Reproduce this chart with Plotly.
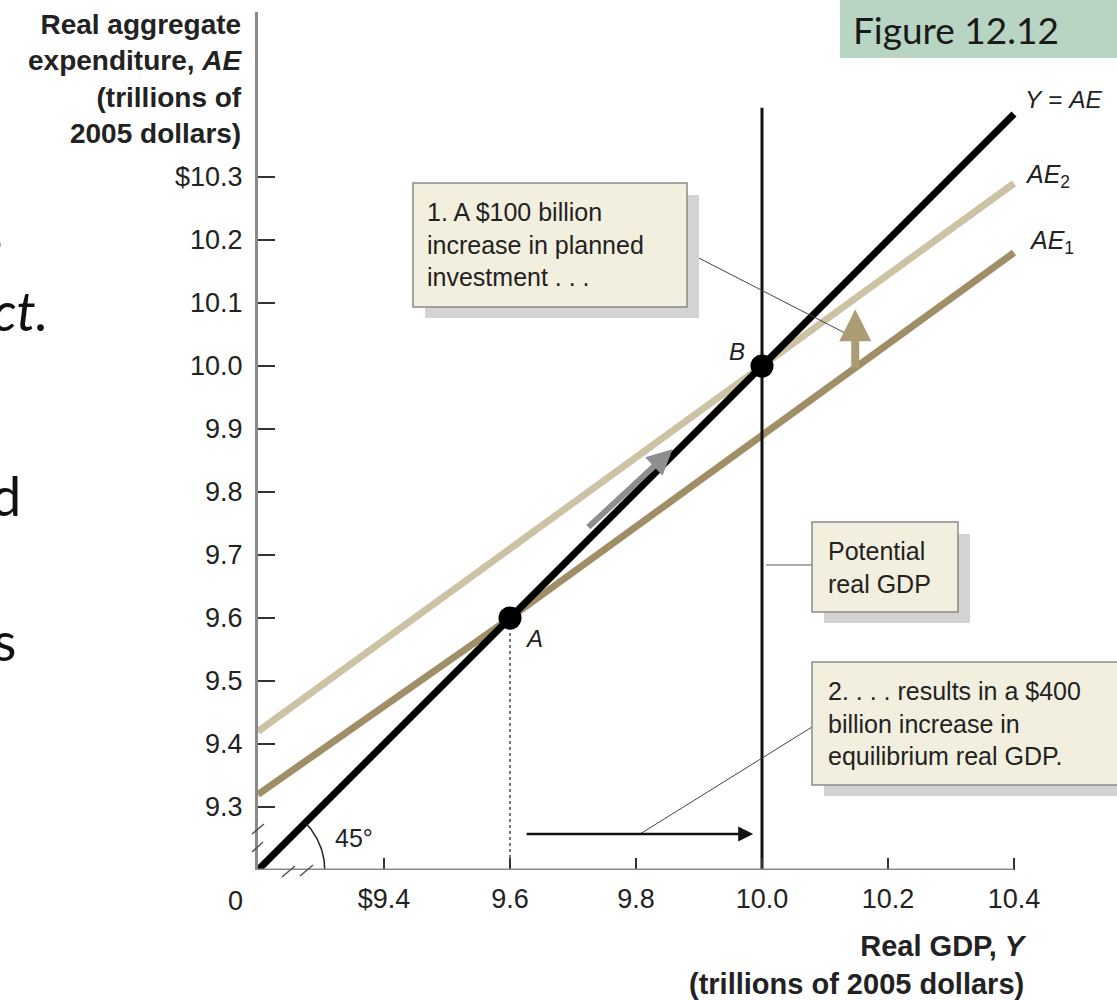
import numpy as np
import plotly.graph_objects as go

# ---- data (trillions of 2005 dollars) ----
real_gdp = [9.2, 9.6, 10.0, 10.4]
y_equals_ae = [9.2, 9.6, 10.0, 10.4]
ae1 = [9.32, 9.60, 9.89, 10.18]
ae2 = [9.42, 9.71, 10.00, 10.29]

eq_labels = ["A", "B"]
eq_gdp = [9.6, 10.0]
eq_ae = [9.6, 10.0]

potential_gdp = 10.0
potential_line_top = 10.41

x_tickvals = [9.4, 9.6, 9.8, 10.0, 10.2, 10.4]
x_ticktext = ["$9.4", "9.6", "9.8", "10.0", "10.2", "10.4"]
y_tickvals = [9.3, 9.4, 9.5, 9.6, 9.7, 9.8, 9.9, 10.0, 10.1, 10.2, 10.3]
y_ticktext = ["9.3", "9.4", "9.5", "9.6", "9.7", "9.8", "9.9", "10.0", "10.1", "10.2", "$10.3"]

# arrows: movement along Y = AE, the upward shift of AE, and the change in GDP
move_from = (9.722, 9.742)
move_to = (9.858, 9.868)
shift_gdp = 10.148
shift_from_ae = 9.995
shift_to_ae = 10.09
gdp_change_from = 9.624
gdp_change_to = 9.986
gdp_change_level = 9.257

# ---- layout geometry ----
W, H = 1117, 1000
L, R, T, B = 258, 0, 12, 130
PW, PH = W - L - R, H - T - B
PPU = 630.0  # pixels per trillion on both axes
AX0 = 9.2
x_range = [AX0, AX0 + PW / PPU]
y_range = [AX0, AX0 + PH / PPU]


def xp(px):
    return (px - L) / PW


def yp(py):
    return (H - B - py) / PH


TXT = "#222222"
SANS = "Liberation Sans, Arial, sans-serif"
SLIDE = "Lato, Open Sans, sans-serif"

fig = go.Figure()

# AE lines and the 45-degree line
fig.add_trace(go.Scatter(x=real_gdp, y=ae1, mode="lines",
                         line=dict(color="#a08f66", width=7), hoverinfo="skip"))
fig.add_trace(go.Scatter(x=real_gdp, y=ae2, mode="lines",
                         line=dict(color="#cdc2a4", width=7), hoverinfo="skip"))
fig.add_trace(go.Scatter(x=real_gdp, y=y_equals_ae, mode="lines",
                         line=dict(color="#000000", width=7), hoverinfo="skip"))

# potential real GDP
fig.add_trace(go.Scatter(x=[potential_gdp, potential_gdp], y=[AX0, potential_line_top],
                         mode="lines", line=dict(color="#111111", width=3), hoverinfo="skip"))

# dotted drop line from A
fig.add_trace(go.Scatter(x=[eq_gdp[0], eq_gdp[0]], y=[AX0, eq_ae[0]], mode="lines",
                         line=dict(color="#777777", width=2, dash="dot"), hoverinfo="skip"))

# 45 degree arc at the origin
theta = np.linspace(0, np.pi / 4, 40)
arc_r = 0.106
fig.add_trace(go.Scatter(x=AX0 + arc_r * np.cos(theta), y=AX0 + arc_r * np.sin(theta),
                         mode="lines", line=dict(color="#222222", width=1.5), hoverinfo="skip"))

# equilibrium points
fig.add_trace(go.Scatter(x=eq_gdp, y=eq_ae, mode="markers",
                         marker=dict(color="#000000", size=23), hoverinfo="skip"))

shapes = []
# x axis line (ends at the last tick)
shapes.append(dict(type="line", xref="x", yref="y", x0=AX0, x1=10.4, y0=AX0, y1=AX0,
                   line=dict(color="#8a8a8a", width=3)))
# axis break marks
for (a, b, c, d) in [(252, 834, 264, 824), (252, 852, 263, 842),
                     (282, 877, 295, 866), (300, 876, 313, 865)]:
    shapes.append(dict(type="line", xref="paper", yref="paper",
                       x0=xp(a), y0=yp(b), x1=xp(c), y1=yp(d),
                       line=dict(color="#555555", width=1.5)))

# callout connectors
shapes.append(dict(type="line", xref="paper", yref="paper", x0=xp(687), y0=yp(252),
                   x1=xp(845), y1=yp(333), line=dict(color="#444444", width=1)))
shapes.append(dict(type="line", xref="paper", yref="paper", x0=xp(766), y0=yp(565),
                   x1=xp(812), y1=yp(565), line=dict(color="#aaaaaa", width=2)))
shapes.append(dict(type="line", xref="paper", yref="paper", x0=xp(812), y0=yp(727),
                   x1=xp(640), y1=yp(834), line=dict(color="#444444", width=1)))

# callout boxes with drop shadows
for (x0, y0, x1, y1) in [(413, 183, 687, 307), (812, 522, 958, 612), (812, 662, 1125, 785)]:
    shapes.append(dict(type="rect", xref="paper", yref="paper",
                       x0=xp(x0 + 12), y0=yp(y0 + 12), x1=xp(x1 + 12), y1=yp(y1 + 11),
                       fillcolor="#d3d3d3", line=dict(width=0)))
    shapes.append(dict(type="rect", xref="paper", yref="paper",
                       x0=xp(x0), y0=yp(y0), x1=xp(x1), y1=yp(y1),
                       fillcolor="#f3efdf", line=dict(color="#8a8a8a", width=1.5)))

# figure tag
shapes.append(dict(type="rect", xref="paper", yref="paper", x0=xp(840), y0=yp(0),
                   x1=xp(1117), y1=yp(58), fillcolor="#b8d4c3", line=dict(width=0)))

ann = []


def label(px, py, text, size, xanchor="left", yanchor="middle", family=SANS,
          align="left", color=TXT):
    ann.append(dict(xref="paper", yref="paper", x=xp(px), y=yp(py), text=text,
                    showarrow=False, xanchor=xanchor, yanchor=yanchor, align=align,
                    font=dict(family=family, size=size, color=color)))


# axis titles
label(244, 7, "<b>Real aggregate<br>expenditure, <i>AE</i><br>(trillions of<br>2005 dollars)</b>",
      28, xanchor="right", yanchor="top", align="right")
label(1029, 928, "<b>Real GDP, <i>Y</i><br>(trillions of 2005 dollars)</b>",
      29, xanchor="right", yanchor="top", align="right")
label(235, 901, "0", 27, xanchor="center")

# curve labels
label(1023, 100, "<i>Y</i> = <i>AE</i>", 24.5)
label(1023, 176, "<i>AE</i><sub>2</sub>", 25)
label(1027, 242, "<i>AE</i><sub>1</sub>", 25)
label(333, 838, "45°", 25)

# callout texts
label(425, 245, "1. A $100 billion<br>increase in planned<br>investment . . .", 25)
label(826, 567, "Potential<br>real GDP", 25)
label(826, 723, "2. . . . results in a $400<br>billion increase in<br>equilibrium real GDP.", 25)

# figure tag text
label(851, 29, "Figure 12.12", 37, family=SLIDE, color="#1a1a1a")

# slide text running behind the figure
label(5, 240, "e", 54, xanchor="right", family=SLIDE, color="#111111")
label(50, 310, "<i>ct.</i>", 54, xanchor="right", family=SLIDE, color="#111111")
label(23, 495, "d", 54, xanchor="right", family=SLIDE, color="#111111")
label(18, 640, "s", 54, xanchor="right", family=SLIDE, color="#111111")

# point labels
for lab, gx, gy, sx, sy in zip(eq_labels, eq_gdp, eq_ae, [24, -25], [-20, 15]):
    ann.append(dict(xref="x", yref="y", x=gx, y=gy, xshift=sx, yshift=sy,
                    text="<i>%s</i>" % lab, showarrow=False,
                    font=dict(family=SANS, size=24, color=TXT)))

# arrows
ann.append(dict(xref="x", yref="y", axref="x", ayref="y", x=move_to[0], y=move_to[1],
                ax=move_from[0], ay=move_from[1], text="", showarrow=True,
                arrowhead=2, arrowsize=0.85, arrowwidth=6, arrowcolor="#8e8e8e"))
ann.append(dict(xref="x", yref="y", axref="x", ayref="y", x=shift_gdp, y=shift_to_ae,
                ax=shift_gdp, ay=shift_from_ae, text="", showarrow=True,
                arrowhead=2, arrowsize=0.8, arrowwidth=8, arrowcolor="#ab9c75"))
ann.append(dict(xref="x", yref="y", axref="x", ayref="y", x=gdp_change_to, y=gdp_change_level,
                ax=gdp_change_from, ay=gdp_change_level, text="", showarrow=True,
                arrowhead=2, arrowsize=1.2, arrowwidth=2.5, arrowcolor="#111111"))

fig.update_layout(
    width=W, height=H,
    margin=dict(l=L, r=R, t=T, b=B, autoexpand=False),
    paper_bgcolor="white", plot_bgcolor="white",
    showlegend=False,
    shapes=shapes,
    annotations=ann,
    xaxis=dict(range=x_range, showgrid=False, zeroline=False, showline=False,
               tickvals=x_tickvals, ticktext=x_ticktext, ticks="inside", ticklen=12,
               tickwidth=2, tickcolor="#333333", ticklabelstandoff=10,
               tickfont=dict(family=SANS, size=27, color=TXT), fixedrange=True),
    yaxis=dict(range=y_range, showgrid=False, zeroline=False, showline=True,
               linecolor="#8a8a8a", linewidth=3,
               tickvals=y_tickvals, ticktext=y_ticktext, ticks="inside", ticklen=17,
               tickwidth=2, tickcolor="#333333", ticklabelstandoff=7,
               tickfont=dict(family=SANS, size=27, color=TXT), fixedrange=True),
)

fig.write_html("out.html")
